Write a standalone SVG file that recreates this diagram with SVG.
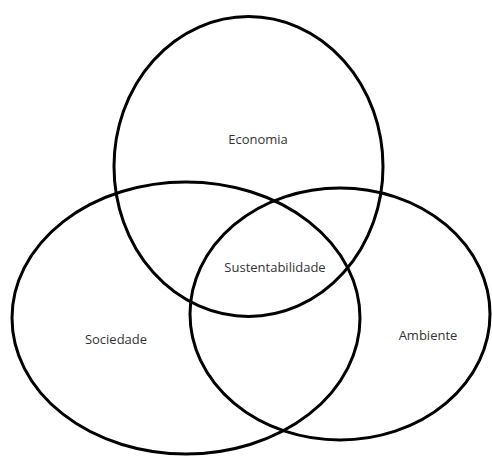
<svg xmlns="http://www.w3.org/2000/svg" width="492" height="457" viewBox="0 0 492 457">
<style>
.c{fill:none;stroke:#000;stroke-width:3}
.t{font-family:"Open Sans","Liberation Sans",sans-serif;font-size:13px;fill:#333;text-anchor:middle}
</style>
<rect width="492" height="457" fill="#fff"/>
<g id="economia"><ellipse class="c" cx="248.5" cy="166.5" rx="134.5" ry="150"/><text class="t" x="258" y="144">Economia</text></g>
<g id="sociedade"><ellipse class="c" cx="186" cy="318" rx="174" ry="136"/><text class="t" x="116" y="344">Sociedade</text></g>
<g id="ambiente"><ellipse class="c" cx="340" cy="314" rx="150" ry="126"/><text class="t" x="428" y="340">Ambiente</text></g>
<g id="sustentabilidade"><text class="t" x="275" y="272">Sustentabilidade</text></g>
<g id="connectors"/>
</svg>
